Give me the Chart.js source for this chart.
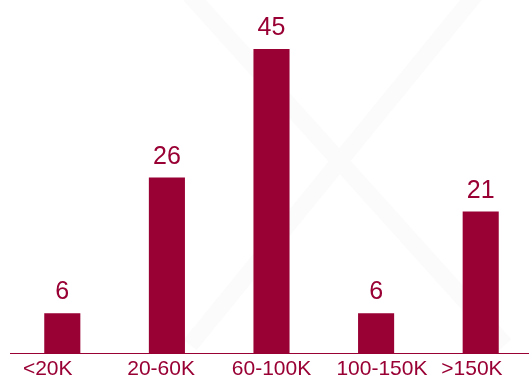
<!DOCTYPE html>
<html>
<head>
<meta charset="utf-8">
<script src="https://cdn.jsdelivr.net/npm/chart.js@4"></script>
<style>
html,body{margin:0;padding:0;background:#fff;overflow:hidden;}
#wrap{position:relative;width:529px;height:376px;overflow:hidden;}
#box{position:absolute;left:0;top:0;width:540px;height:385px;}
</style>
</head>
<body>
<div id="wrap"><div id="box"><canvas id="c"></canvas></div></div>
<script>
const categories = ['<20K', '20-60K', '60-100K', '100-150K', '>150K'];
const counts = [6, 26, 45, 6, 21];
const yMin = 0;
const yMax = 50;

const crimson = '#990033';
// label nudges (in space characters): negative = left, positive = right
const labelNudge = [-5, -2, 0, 2, -3];

const watermark = {
  id: 'watermark',
  beforeDraw(chart) {
    const ctx = chart.ctx;
    ctx.save();
    ctx.strokeStyle = '#fbfbfb';
    ctx.lineWidth = 17;
    ctx.beginPath();
    ctx.moveTo(190, -5); ctx.lineTo(505, 345);
    ctx.moveTo(475, -5); ctx.lineTo(190, 345);
    ctx.stroke();
    ctx.restore();
  }
};

const valueLabels = {
  id: 'valueLabels',
  afterDatasetsDraw(chart) {
    const ctx = chart.ctx;
    ctx.save();
    ctx.fillStyle = crimson;
    ctx.font = '25px "Liberation Sans", Arial, sans-serif';
    ctx.textAlign = 'center';
    ctx.textBaseline = 'alphabetic';
    const meta = chart.getDatasetMeta(0);
    meta.data.forEach((bar, i) => {
      ctx.fillText(String(chart.data.datasets[0].data[i]), bar.x, bar.y - 14);
    });
    ctx.restore();
  }
};

new Chart(document.getElementById('c'), {
  type: 'bar',
  data: {
    labels: categories,
    datasets: [{
      data: counts,
      backgroundColor: crimson,
      borderWidth: 0,
      categoryPercentage: 1,
      barPercentage: 0.345
    }]
  },
  options: {
    responsive: true,
    maintainAspectRatio: false,
    animation: false,
    layout: { padding: { left: 10, right: 7, top: 15, bottom: 0 } },
    plugins: { legend: { display: false }, tooltip: { enabled: false } },
    scales: {
      x: {
        grid: { display: false, drawTicks: false },
        border: { display: true, color: crimson, width: 1 },
        ticks: {
          color: crimson,
          padding: 3,
          maxRotation: 0,
          autoSkip: false,
          font: { family: '"Liberation Sans", Arial, sans-serif', size: 21 },
          callback: function(value, index) {
            const s = this.getLabelForValue(value);
            const n = labelNudge[index] || 0;
            return n < 0 ? s + ' '.repeat(-n) : ' '.repeat(n) + s;
          }
        }
      },
      y: {
        display: false,
        min: yMin,
        max: yMax
      }
    }
  },
  plugins: [watermark, valueLabels]
});
</script>
</body>
</html>
